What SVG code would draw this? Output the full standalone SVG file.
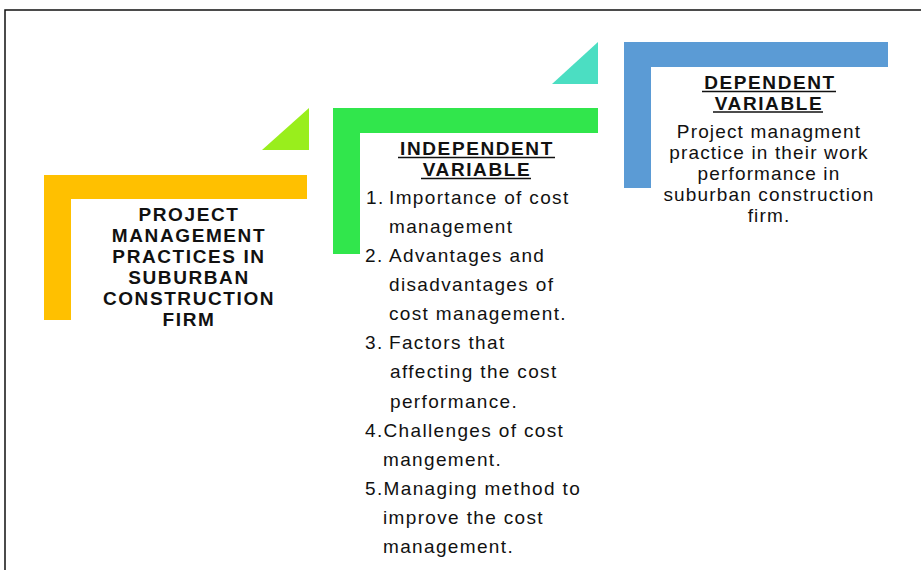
<svg xmlns="http://www.w3.org/2000/svg" width="921" height="570" viewBox="0 0 921 570">
<style>
.t{font-family:"Liberation Sans",Arial,sans-serif;fill:#111;}
.title{font-size:19px;font-weight:bold;letter-spacing:1.6px;text-anchor:middle;}
.head{font-size:19px;font-weight:bold;letter-spacing:1.6px;text-anchor:middle;}
.body{font-size:19px;letter-spacing:1.35px;}
.bodyc{font-size:19px;letter-spacing:1.15px;text-anchor:middle;}
.ul{stroke:#111;stroke-width:1.5;}
</style>
<rect x="0" y="0" width="921" height="570" fill="#fff"/>
<rect x="5" y="10" width="940" height="600" fill="none" stroke="#111" stroke-width="1.5"/>
<g id="node-practices">
<path d="M44 175 H307 V199 H71 V320 H44 Z" fill="#FFC000"/>
<text class="t title" x="189" y="221">PROJECT</text>
<text class="t title" x="189" y="242">MANAGEMENT</text>
<text class="t title" x="189" y="263">PRACTICES IN</text>
<text class="t title" x="189" y="284">SUBURBAN</text>
<text class="t title" x="189" y="305">CONSTRUCTION</text>
<text class="t title" x="189" y="326">FIRM</text>
</g>
<g id="node-independent">
<polygon points="262,150 309,108 309,150" fill="#99EE1C"/>
<path d="M333 108 H598 V133 H360 V254 H333 Z" fill="#31E64C"/>
<text class="t head" x="477" y="155">INDEPENDENT</text>
<line class="ul" x1="398" y1="157.5" x2="555" y2="157.5"/>
<text class="t head" x="477" y="176">VARIABLE</text>
<line class="ul" x1="421" y1="178.5" x2="531" y2="178.5"/>
<text class="t body" x="366" y="204">1.</text>
<text class="t body" x="389" y="204">Importance of cost</text>
<text class="t body" x="389" y="233">management</text>
<text class="t body" x="365" y="262">2.</text>
<text class="t body" x="389" y="262">Advantages and</text>
<text class="t body" x="389" y="291">disadvantages of</text>
<text class="t body" x="389" y="320">cost management.</text>
<text class="t body" x="365" y="349">3.</text>
<text class="t body" x="389" y="349">Factors that</text>
<text class="t body" x="390" y="378">affecting the cost</text>
<text class="t body" x="390" y="408">performance.</text>
<text class="t body" x="365" y="437">4.Challenges of cost</text>
<text class="t body" x="383" y="466">mangement.</text>
<text class="t body" x="365" y="495">5.Managing method to</text>
<text class="t body" x="383" y="524">improve the cost</text>
<text class="t body" x="383" y="553">management.</text>
</g>
<g id="node-dependent">
<polygon points="552,84 598,42 598,84" fill="#4BDEC2"/>
<path d="M624 42 H888 V67 H651 V188 H624 Z" fill="#5B9BD5"/>
<text class="t head" x="770" y="89">DEPENDENT</text>
<line class="ul" x1="702" y1="91.5" x2="836" y2="91.5"/>
<text class="t head" x="769" y="110">VARIABLE</text>
<line class="ul" x1="713" y1="112" x2="823" y2="112"/>
<text class="t bodyc" x="769" y="138">Project managment</text>
<text class="t bodyc" x="769" y="159">practice in their work</text>
<text class="t bodyc" x="769" y="180">performance in</text>
<text class="t bodyc" x="769" y="201">suburban construction</text>
<text class="t bodyc" x="769" y="222">firm.</text>
</g>
<g id="connectors"></g>
</svg>
